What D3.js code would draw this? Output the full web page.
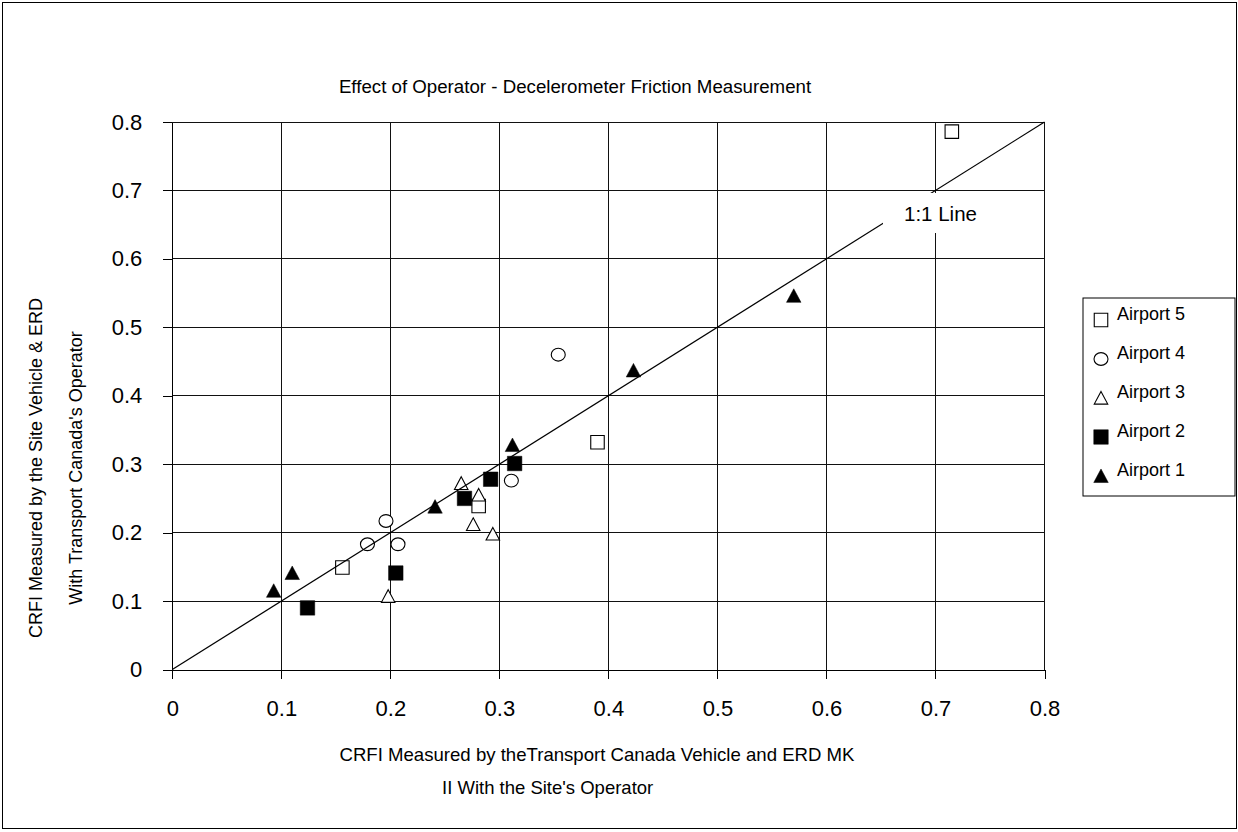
<!DOCTYPE html>
<html>
<head>
<meta charset="utf-8">
<script src="https://cdn.jsdelivr.net/npm/d3@7/dist/d3.min.js"></script>
<style>
  html, body { margin: 0; padding: 0; background: #fff; }
  svg { display: block; }
  text { font-family: Arial, "Liberation Sans", sans-serif; fill: #000; }
</style>
</head>
<body>
<svg id="chart" width="1238" height="832"></svg>
<script>
// Tick values for both axes
const tickValues = [0, 0.1, 0.2, 0.3, 0.4, 0.5, 0.6, 0.7, 0.8];
const tickLabels = ["0", "0.1", "0.2", "0.3", "0.4", "0.5", "0.6", "0.7", "0.8"];

// CRFI pairs per airport: x = Transport Canada vehicle, y = site vehicle
const airport1X = [0.093, 0.110, 0.241, 0.312, 0.423, 0.570];
const airport1Y = [0.115, 0.141, 0.238, 0.328, 0.437, 0.546];
const airport2X = [0.124, 0.205, 0.268, 0.292, 0.314];
const airport2Y = [0.090, 0.141, 0.250, 0.278, 0.301];
const airport3X = [0.198, 0.265, 0.281, 0.276, 0.294];
const airport3Y = [0.107, 0.272, 0.255, 0.212, 0.198];
const airport4X = [0.196, 0.179, 0.207, 0.311, 0.354];
const airport4Y = [0.217, 0.183, 0.183, 0.276, 0.460];
const airport5X = [0.156, 0.281, 0.390, 0.715];
const airport5Y = [0.149, 0.239, 0.332, 0.786];

const seriesNames = ["Airport 5", "Airport 4", "Airport 3", "Airport 2", "Airport 1"];
const oneToOne = [0, 0.8];

const series = [
  { name: "Airport 5", shape: "square",   filled: false, xs: airport5X, ys: airport5Y },
  { name: "Airport 4", shape: "circle",   filled: false, xs: airport4X, ys: airport4Y },
  { name: "Airport 3", shape: "triangle", filled: false, xs: airport3X, ys: airport3Y },
  { name: "Airport 2", shape: "square",   filled: true,  xs: airport2X, ys: airport2Y },
  { name: "Airport 1", shape: "triangle", filled: true,  xs: airport1X, ys: airport1Y }
];

const svg = d3.select("#chart");

// Outer frame
svg.append("rect")
  .attr("x", 2.5).attr("y", 2.5)
  .attr("width", 1234).attr("height", 826)
  .attr("fill", "none").attr("stroke", "#000").attr("stroke-width", 1);

const plot = { left: 172.3, right: 1044.5, top: 122, bottom: 669.5 };
const x = d3.scaleLinear().domain([0, 0.8]).range([plot.left, plot.right]);
const y = d3.scaleLinear().domain([0, 0.8]).range([plot.bottom, plot.top]);

// Grid
const grid = svg.append("g").attr("stroke", "#111").attr("stroke-width", 1).attr("shape-rendering", "crispEdges");
grid.selectAll("line.v").data(tickValues.slice(1)).join("line")
  .attr("class", "v")
  .attr("x1", d => x(d)).attr("x2", d => x(d))
  .attr("y1", plot.top).attr("y2", plot.bottom);
grid.selectAll("line.h").data(tickValues.slice(1)).join("line")
  .attr("class", "h")
  .attr("x1", plot.left).attr("x2", plot.right)
  .attr("y1", d => y(d)).attr("y2", d => y(d));

// Axes
const fmt = (d, i) => tickLabels[i];
const xAxis = svg.append("g")
  .attr("transform", `translate(0,${plot.bottom})`)
  .call(d3.axisBottom(x).tickValues(tickValues).tickFormat(fmt).tickSize(9).tickPadding(22).tickSizeOuter(0));
const yAxis = svg.append("g")
  .attr("transform", `translate(${plot.left},0)`)
  .call(d3.axisLeft(y).tickValues(tickValues).tickFormat(fmt).tickSize(9).tickPadding(21).tickSizeOuter(0));
[xAxis, yAxis].forEach(a => {
  a.selectAll("path, line").attr("stroke", "#000").attr("shape-rendering", "crispEdges");
  a.selectAll("text").style("font-family", "Arial, 'Liberation Sans', sans-serif")
    .style("font-size", "22px").attr("fill", "#000");
});

// Marker shapes
function markerPath(shape, size) {
  const h = size / 2;
  if (shape === "square") {
    return `M${-h},${-h}H${h}V${h}H${-h}Z`;
  }
  if (shape === "triangle") {
    const th = size * 0.9;
    return `M0,${-th / 2 - 0.5}L${h},${th / 2}L${-h},${th / 2}Z`;
  }
  return null;
}

function drawMarker(g, s, cx, cy) {
  if (s.shape === "circle") {
    g.append("ellipse")
      .attr("cx", cx).attr("cy", cy).attr("rx", 7).attr("ry", 6.4)
      .attr("fill", "#fff").attr("stroke", "#000").attr("stroke-width", 1.1);
  } else {
    const size = s.filled ? 14.5 : 13.5;
    g.append("path")
      .attr("d", markerPath(s.shape, size))
      .attr("transform", `translate(${cx},${cy})`)
      .attr("fill", s.filled ? "#000" : "#fff")
      .attr("stroke", "#000").attr("stroke-width", s.filled ? 0.5 : 1.1);
  }
}

// Points
const pts = svg.append("g");
series.forEach(s => {
  s.xs.forEach((vx, i) => drawMarker(pts, s, x(vx), y(s.ys[i])));
});

// 1:1 reference line
svg.append("line")
  .attr("x1", x(oneToOne[0])).attr("y1", y(oneToOne[0]))
  .attr("x2", x(oneToOne[1])).attr("y2", y(oneToOne[1]))
  .attr("stroke", "#000").attr("stroke-width", 1.2);

// Label for the 1:1 line on a white patch
svg.append("rect")
  .attr("x", 883).attr("y", 193).attr("width", 112).attr("height", 40)
  .attr("fill", "#fff");
svg.append("text")
  .attr("x", 904).attr("y", 221)
  .style("font-size", "20.5px")
  .text("1:1 Line");

// Title
svg.append("text")
  .attr("x", 575).attr("y", 93)
  .attr("text-anchor", "middle")
  .style("font-size", "18.7px")
  .text("Effect of Operator - Decelerometer Friction  Measurement");

// X axis title (two lines)
svg.append("text")
  .attr("x", 597).attr("y", 761)
  .attr("text-anchor", "middle")
  .style("font-size", "18.6px")
  .text("CRFI Measured by theTransport Canada Vehicle and ERD MK");
svg.append("text")
  .attr("x", 442).attr("y", 794)
  .style("font-size", "18.5px")
  .text("II With the Site's Operator");

// Y axis title (two lines)
const yTitle = svg.append("g").attr("transform", "translate(0,468) rotate(-90)");
yTitle.append("text")
  .attr("x", 0).attr("y", 42)
  .attr("text-anchor", "middle")
  .style("font-size", "18px")
  .text("CRFI Measured by the Site Vehicle & ERD");
yTitle.append("text")
  .attr("x", 0).attr("y", 82)
  .attr("text-anchor", "middle")
  .style("font-size", "18px")
  .text("With Transport Canada's Operator");

// Legend
const legend = svg.append("g");
legend.append("rect")
  .attr("x", 1083).attr("y", 298).attr("width", 152).attr("height", 198)
  .attr("fill", "#fff").attr("stroke", "#000").attr("stroke-width", 1);
series.forEach((s, i) => {
  const base = 320 + i * 39;
  drawMarker(legend, s, 1101, base);
  legend.append("text")
    .attr("x", 1117).attr("y", base)
    .style("font-size", "18px")
    .text(seriesNames[i]);
});
</script>
</body>
</html>
